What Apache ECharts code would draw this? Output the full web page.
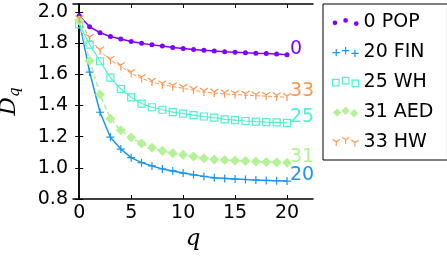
<!DOCTYPE html>
<html>
<head>
<meta charset="utf-8">
<script src="https://cdn.jsdelivr.net/npm/echarts@6/dist/echarts.min.js"></script>
<style>
  html, body { margin: 0; padding: 0; background: #fff; }
  #chart { width: 447px; height: 256px; }
</style>
</head>
<body>
<div id="chart"></div>
<script>
// q values and D_q for each network
const q = [0, 1, 2, 3, 4, 5, 6, 7, 8, 9, 10, 11, 12, 13, 14, 15, 16, 17, 18, 19, 20];
const pop = [1.975, 1.904, 1.866, 1.842, 1.825, 1.810, 1.798, 1.788, 1.781, 1.771, 1.765,
             1.758, 1.754, 1.748, 1.744, 1.741, 1.737, 1.734, 1.732, 1.730, 1.725];
const fin = [1.94, 1.613, 1.356, 1.196, 1.120, 1.065, 1.033, 1.012, 0.993, 0.980, 0.966,
             0.955, 0.945, 0.936, 0.932, 0.928, 0.925, 0.921, 0.919, 0.917, 0.915];
const wh = [1.92, 1.79, 1.683, 1.578, 1.505, 1.452, 1.412, 1.388, 1.372, 1.357, 1.347,
            1.338, 1.329, 1.321, 1.310, 1.305, 1.300, 1.296, 1.293, 1.291, 1.288];
const aed = [1.945, 1.686, 1.470, 1.315, 1.240, 1.194, 1.156, 1.128, 1.109, 1.094, 1.083,
             1.072, 1.062, 1.053, 1.050, 1.046, 1.043, 1.040, 1.037, 1.035, 1.032];
const hw = [1.95, 1.83, 1.75, 1.69, 1.65, 1.606, 1.573, 1.550, 1.533, 1.520, 1.510,
            1.497, 1.486, 1.479, 1.474, 1.469, 1.466, 1.462, 1.459, 1.456, 1.452];

const names = ["0 POP", "20 FIN", "25 WH", "31 AED", "33 HW"];
const colors = ["#8000ff", "#1a96f2", "#4df2ce", "#b3f396", "#ff964f"];
const xTicks = [0, 5, 10, 15, 20];
const yTicks = [0.8, 1.0, 1.2, 1.4, 1.6, 1.8, 2.0];

const FONT = "DejaVu Sans";

// marker shapes
const PLUS = "path://M-1,0L1,0M0,-1L0,1";
const TRI_DOWN = "path://M0,0L0,1M0,0L-0.866,-0.5M0,0L0.866,-0.5";

// legend icons: three markers each, like matplotlib
const legendIcons = [
  "path://M1.5,6a2,2 0 1,0 4,0a2,2 0 1,0 -4,0M10.5,4a2,2 0 1,0 4,0a2,2 0 1,0 -4,0M19.5,6.7a2,2 0 1,0 4,0a2,2 0 1,0 -4,0",
  "path://M0,6L7,6M3.5,2.5L3.5,9.5M9,4L16,4M12.5,0.5L12.5,7.5M18,6.7L25,6.7M21.5,3.2L21.5,10.2",
  "path://M0.5,2.5L6.5,2.5L6.5,8.5L0.5,8.5ZM9.5,0.5L15.5,0.5L15.5,6.5L9.5,6.5ZM18.5,3.2L24.5,3.2L24.5,9.2L18.5,9.2Z",
  "path://M3.5,1.5L8,6L3.5,10.5L-1,6ZM12.5,-0.5L17,4L12.5,8.5L8,4ZM21.5,2.2L26,6.7L21.5,11.2L17,6.7Z",
  "path://M3.5,6L3.5,10M3.5,6L0,4M3.5,6L7,4M12.5,4L12.5,8M12.5,4L9,2M12.5,4L16,2M21.5,6.7L21.5,10.7M21.5,6.7L18,4.7M21.5,6.7L25,4.7"
];

const styles = [
  { data: pop, symbol: "circle", size: 5, fill: colors[0], stroke: colors[0], bw: 0, line: "solid", lw: 1.5 },
  { data: fin, symbol: PLUS, size: 8, fill: colors[1], stroke: colors[1], bw: 1.2, line: "solid", lw: 1.5 },
  { data: wh, symbol: "rect", size: 7, fill: "rgba(0,0,0,0)", stroke: colors[2], bw: 1.2, line: "solid", lw: 1.2 },
  { data: aed, symbol: "diamond", size: 10, fill: colors[3], stroke: colors[3], bw: 0, line: [5, 3], lw: 1.5 },
  { data: hw, symbol: TRI_DOWN, size: 8, fill: colors[4], stroke: colors[4], bw: 1.2, line: [4, 2], lw: 1 }
];

const chart = echarts.init(document.getElementById("chart"));

const series = styles.map((s, i) => ({
  name: names[i],
  type: "line",
  data: q.map((x, j) => [x, s.data[j]]),
  symbol: s.symbol,
  symbolSize: s.size,
  showAllSymbol: true,
  itemStyle: { color: s.fill, borderColor: s.stroke, borderWidth: s.bw },
  lineStyle: { color: colors[i], width: s.lw, type: s.line },
  endLabel: {
    show: true,
    formatter: names[i].split(" ")[0],
    color: colors[i],
    fontFamily: FONT,
    fontSize: 19,
    distance: 3,
    offset: [0, -6]
  },
  z: 2 + i
}));

const frame = { show: true, lineStyle: { color: "#000", width: 1.5 } };
const inTick = (vals) => ({ show: true, inside: true, length: 4, customValues: vals, lineStyle: { color: "#000", width: 1 } });

const option = {
  animation: false,
  textStyle: { fontFamily: FONT },
  grid: { left: 73, right: 134, top: 4, bottom: 57, containLabel: false, outerBoundsMode: "none" },
  legend: {
    orient: "vertical",
    left: 323,
    top: 4,
    padding: [8, 14, 8, 9],
    itemWidth: 26,
    itemHeight: 11,
    itemGap: 10,
    itemTextGap: 3,
    borderColor: "#000",
    borderWidth: 1,
    textStyle: { fontFamily: FONT, fontSize: 19, color: "#000", lineHeight: 20 },
    data: names.map((n, i) => ({
      name: n,
      icon: legendIcons[i],
      itemStyle: {
        color: styles[i].bw > 0 ? "rgba(0,0,0,0)" : colors[i],
        borderColor: colors[i],
        borderWidth: styles[i].bw
      }
    }))
  },
  xAxis: [
    {
      type: "value", min: -0.6, max: 22.5, position: "bottom",
      axisLine: frame, axisTick: inTick(xTicks), splitLine: { show: false },
      axisLabel: { customValues: xTicks, color: "#000", fontSize: 19, margin: 5 },
      name: "q", nameLocation: "middle", nameGap: 22,
      nameTextStyle: { fontFamily: "DejaVu Serif", fontStyle: "italic", fontSize: 23, color: "#000" }
    },
    {
      type: "value", min: -0.6, max: 22.5, position: "top",
      axisLine: frame, axisTick: inTick(xTicks), splitLine: { show: false },
      axisLabel: { show: false }
    }
  ],
  yAxis: [
    {
      type: "value", min: 0.8, max: 2.05, position: "left",
      axisLine: frame, axisTick: inTick(yTicks), splitLine: { show: false },
      axisLabel: { customValues: yTicks, color: "#000", fontSize: 19, margin: 5, formatter: (v) => v.toFixed(1) },
      name: "{d|D}{s|q}", nameLocation: "middle", nameGap: 50,
      nameTextStyle: {
        rich: {
          d: { fontFamily: "DejaVu Serif", fontStyle: "italic", fontSize: 23, color: "#000", lineHeight: 28 },
          s: { fontFamily: "DejaVu Serif", fontStyle: "italic", fontSize: 15, color: "#000", verticalAlign: "bottom", lineHeight: 28 }
        }
      }
    },
    {
      type: "value", min: 0.8, max: 2.05, position: "right",
      axisLine: frame, axisTick: inTick(yTicks), splitLine: { show: false },
      axisLabel: { show: false }
    }
  ],
  series: series
};

chart.setOption(option);
</script>
</body>
</html>
